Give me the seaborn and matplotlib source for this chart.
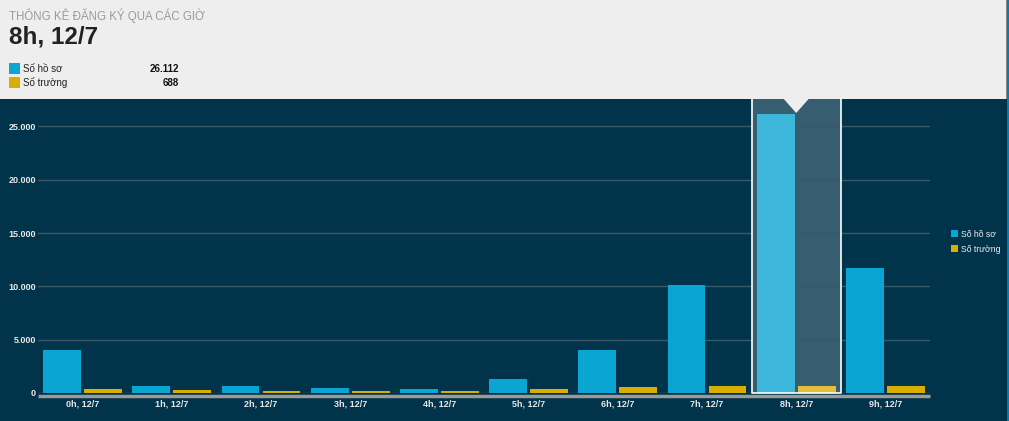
import matplotlib
matplotlib.use("Agg")
import matplotlib.pyplot as plt
import matplotlib.patches as mpatches
import matplotlib.transforms as mtransforms
from matplotlib.ticker import FuncFormatter, MultipleLocator
import seaborn as sns
import pandas as pd

# ---- data ----
categories = ["0h, 12/7", "1h, 12/7", "2h, 12/7", "3h, 12/7", "4h, 12/7",
              "5h, 12/7", "6h, 12/7", "7h, 12/7", "8h, 12/7", "9h, 12/7"]
so_ho_so = [4060, 690, 620, 450, 380, 1340, 4000, 10100, 26112, 11700]
so_truong = [375, 280, 190, 190, 190, 375, 540, 620, 688, 680]
series_names = ["Số hồ sơ", "Số trường"]
title_text = "THÔNG KÊ ĐĂNG KÝ QUA CÁC GIỜ"
selected = "8h, 12/7"
header_values = ["26.112", "688"]

BG = "#01344A"
HEADER = "#EEEEEE"
BLUE = "#0AA5D2"
GOLD = "#D8AE00"
BLUE_H = "#3CB6DA"
GOLD_H = "#E3BE3A"

df = pd.DataFrame({
    "cat": categories * 2,
    "val": so_ho_so + so_truong,
    "series": [series_names[0]] * len(categories) + [series_names[1]] * len(categories),
})

sns.set_theme(style="dark")
plt.rcParams["font.family"] = ["Liberation Sans", "DejaVu Sans"]

W, H = 1009, 421
fig = plt.figure(figsize=(W / 100, H / 100), dpi=100)
fig.patch.set_facecolor(BG)

# axes placement in pixels
x0, x1 = 38, 930
y_zero, y_top = 393, 99
ax = fig.add_axes([x0 / W, (H - y_zero) / H, (x1 - x0) / W, (y_zero - y_top) / H])
ax.set_facecolor(BG)

sns.barplot(data=df, x="cat", y="val", hue="series", order=categories,
            hue_order=series_names, palette=[BLUE, GOLD], width=0.92, gap=0.08,
            ax=ax, legend=False, saturation=1, linewidth=0)

# hovered category colours
sel_idx = categories.index(selected)
n = len(categories)
bars = ax.patches
for i, p in enumerate(bars[:2 * n]):
    p.set_zorder(2)
    if i % n == sel_idx:
        p.set_facecolor(BLUE_H if i < n else GOLD_H)

ymax = (y_zero - y_top) / 53.33 * 5000
ax.set_ylim(0, ymax)
ax.set_xlim(-0.5, n - 0.5)
ax.yaxis.set_major_locator(MultipleLocator(5000))
ax.yaxis.set_major_formatter(FuncFormatter(lambda v, _: f"{v:,.0f}".replace(",", ".")))
ax.grid(axis="y", color="#3A5967", linewidth=1)
ax.grid(axis="x", visible=False)
ax.set_axisbelow(True)
for s in ax.spines.values():
    s.set_visible(False)
ax.plot([0, 1], [0, 0], color="#9A9A9A", linewidth=2.5, zorder=5,
        transform=ax.transAxes + mtransforms.ScaledTranslation(0, -2.5 / 100, fig.dpi_scale_trans),
        clip_on=False, solid_capstyle="butt")
ax.set_xlabel("")
ax.set_ylabel("")
ax.tick_params(axis="both", length=0, colors="#E8E8E8", labelsize=6.5)
ax.tick_params(axis="x", pad=5)
ax.tick_params(axis="y", pad=1.5)
for lbl in ax.get_xticklabels() + ax.get_yticklabels():
    lbl.set_fontweight("bold")
    lbl.set_color("#E8E8E8")

# highlight band
trans = mtransforms.blended_transform_factory(ax.transData, ax.transAxes)
ax.axvspan(sel_idx - 0.5, sel_idx + 0.5, facecolor="white", alpha=0.21, zorder=0.4,
           linewidth=0)
ax.plot([sel_idx - 0.5, sel_idx - 0.5, sel_idx + 0.5, sel_idx + 0.5],
        [1.0, 0.0, 0.0, 1.0], color="white", linewidth=1.2, transform=trans,
        zorder=6, clip_on=False)
# notch
dx = 15 / 89.2
dy = 14 / (y_zero - y_top)
ax.add_patch(mpatches.Polygon([(sel_idx - dx, 1.01), (sel_idx + dx, 1.01), (sel_idx, 1.0 - dy)],
                              closed=True, facecolor=HEADER, edgecolor="none",
                              transform=trans, zorder=8, clip_on=False))

# right-side legend
handles = [mpatches.Patch(facecolor=BLUE, edgecolor="none"),
           mpatches.Patch(facecolor=GOLD, edgecolor="none")]
leg = fig.legend(handles, series_names, loc="upper left",
                 bbox_to_anchor=(943 / W, 1 - 222 / H), frameon=False,
                 fontsize=6.2, handlelength=0.85, handleheight=0.85,
                 handletextpad=0.3, labelspacing=0.7)
for t in leg.get_texts():
    t.set_color("#F0F0F0")

# header
fig.add_artist(mpatches.Rectangle((0, 1 - 99 / H), 1006 / W, 99 / H,
                                  transform=fig.transFigure, facecolor=HEADER,
                                  edgecolor="none", zorder=0))
fig.add_artist(mpatches.Rectangle((1006 / W, 1 - 99 / H), 1 / W, 99 / H,
                                  transform=fig.transFigure, facecolor="#888888",
                                  edgecolor="none", zorder=0))
fig.add_artist(mpatches.Rectangle((1007 / W, 0), 2 / W, 1,
                                  transform=fig.transFigure, facecolor="#0A79A6",
                                  edgecolor="none", zorder=0))
fig.text(9 / W, 1 - 16 / H, title_text, color="#9A9A9A", fontsize=8.3,
         va="center", ha="left")
fig.text(9 / W, 1 - 37 / H, selected, color="#222222", fontsize=17.5,
         fontweight="bold", va="center", ha="left")
for k, (name, val, col) in enumerate(zip(series_names, header_values, [BLUE, GOLD])):
    yc = 68.5 + k * 14
    fig.add_artist(mpatches.Rectangle((9 / W, 1 - (yc + 5.5) / H), 11 / W, 11 / H,
                                      transform=fig.transFigure, facecolor=col,
                                      edgecolor="none"))
    fig.text(23 / W, 1 - yc / H, name, color="#222222", fontsize=7,
             va="center", ha="left")
    fig.text(179 / W, 1 - yc / H, val, color="#111111", fontsize=7,
             fontweight="bold", va="center", ha="right")

fig.savefig("out.png", dpi=100, facecolor=BG)
